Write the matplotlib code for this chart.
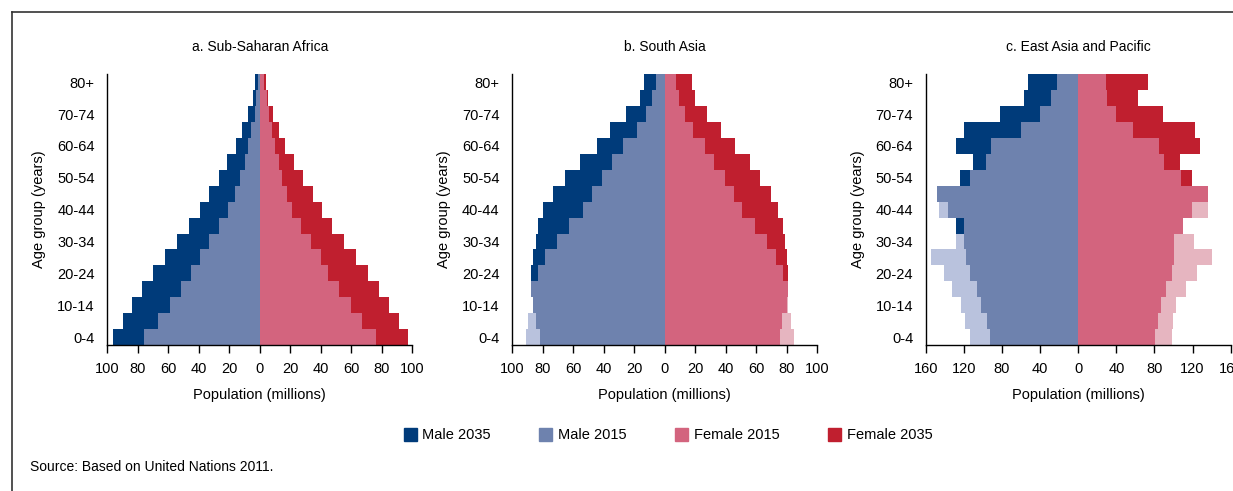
import numpy as np
import matplotlib
matplotlib.use("Agg")
import matplotlib.pyplot as plt
from matplotlib.patches import Patch
from matplotlib.lines import Line2D

plt.rcParams['font.family'] = ['Liberation Sans Narrow', 'Liberation Sans', 'DejaVu Sans']

age_groups = ['0-4', '5-9', '10-14', '15-19', '20-24', '25-29', '30-34', '35-39',
              '40-44', '45-49', '50-54', '55-59', '60-64', '65-69', '70-74', '75-79', '80+']

# a. Sub-Saharan Africa
ssa_male_2015 = [76, 67, 59, 52, 45, 39, 33, 26.7, 21, 16.5, 13.2, 10, 7.7, 6, 2.9, 2.2, 1.3]
ssa_male_2035 = [96, 90, 84, 77, 70, 62, 54, 46.5, 39.4, 33, 27, 21.4, 15.6, 11.5, 7.5, 4.4, 3]
ssa_female_2015 = [76, 67, 60, 52, 45, 40, 33.5, 27, 21.4, 17.8, 14.8, 12.3, 10, 7.7, 6, 4.4, 2.6]
ssa_female_2035 = [97, 91, 85, 78, 71, 63, 55, 47.5, 41, 34.6, 28, 22.5, 16.7, 12.3, 8.6, 5.5, 4.2]

# b. South Asia
sa_male_2015 = [90.8, 89.7, 86.5, 87.5, 83, 78.5, 70.6, 62.5, 53.3, 47.4, 41, 34.4, 27, 18, 12, 8.1, 5.9]
sa_male_2035 = [81.6, 84, 86, 87.5, 87.5, 86, 84, 83, 79.4, 73, 65.4, 55.3, 44.3, 35.5, 25, 15.8, 13.6]
sa_female_2015 = [84.6, 82.7, 81, 81, 78, 72.8, 67, 59.6, 51, 45.4, 39.5, 32.5, 26.3, 18.6, 13.2, 9.2, 7.7]
sa_female_2035 = [75.7, 76.8, 80, 81, 81, 80, 79, 77.8, 74.6, 70, 62.5, 56, 46, 37.3, 28, 19.7, 18]

# c. East Asia and Pacific
eap_male_2015 = [114, 118.7, 122.6, 132, 141, 154.8, 128.6, 120, 146, 148, 113.8, 97, 91, 60, 40, 28.3, 22.3]
eap_male_2035 = [93, 96, 101.8, 106.7, 114, 117.7, 120, 128.6, 137, 148, 124.4, 110, 128.6, 120, 82.3, 57.2, 52.3]
eap_female_2015 = [97.9, 99.6, 103, 113, 124.7, 140.3, 121, 110, 136, 136, 107.8, 90, 84.8, 57.6, 39.6, 30, 29.3]
eap_female_2035 = [80.6, 83.7, 87.3, 91.9, 97.9, 100, 100, 110.2, 119, 136, 119, 107, 128, 123, 89, 63, 73.5]

panels = [
    ('a. Sub-Saharan Africa', ssa_male_2015, ssa_male_2035, ssa_female_2015, ssa_female_2035, 100, 20),
    ('b. South Asia', sa_male_2015, sa_male_2035, sa_female_2015, sa_female_2035, 100, 20),
    ('c. East Asia and Pacific', eap_male_2015, eap_male_2035, eap_female_2015, eap_female_2035, 160, 40),
]

male_dark, male_mid, male_light = '#003b7a', '#6e82ae', '#b9c2dd'
fem_dark, fem_mid, fem_light = '#c01f2f', '#d3647e', '#e6b5c0'

fig = plt.figure(figsize=(12.33, 4.91), dpi=100)
lefts = [107.3, 512, 925.7]
W, H = 1233.0, 491.0

y = np.arange(len(age_groups))
for left, (title, m15, m35, f15, f35, lim, step) in zip(lefts, panels):
    ax = fig.add_axes([left / W, 1 - 345 / H, 305 / W, (345 - 74.3) / H])
    m15 = np.array(m15); m35 = np.array(m35)
    f15 = np.array(f15); f35 = np.array(f35)
    # 2015 beyond 2035 shows light, 2035 beyond 2015 shows dark, overlap mid
    ax.barh(y, -m15, height=1.0, color=male_light, linewidth=0)
    ax.barh(y, -m35, height=1.0, color=male_dark, linewidth=0)
    ax.barh(y, -np.minimum(m15, m35), height=1.0, color=male_mid, linewidth=0)
    ax.barh(y, f15, height=1.0, color=fem_light, linewidth=0)
    ax.barh(y, f35, height=1.0, color=fem_dark, linewidth=0)
    ax.barh(y, np.minimum(f15, f35), height=1.0, color=fem_mid, linewidth=0)

    ax.set_xlim(-lim, lim)
    ax.set_ylim(-0.5, len(age_groups) - 0.5)
    ticks = np.arange(-lim, lim + 1, step)
    ax.set_xticks(ticks)
    ax.set_xticklabels([str(abs(int(t))) for t in ticks], fontsize=10.5)
    ax.set_yticks(y[::2])
    ax.set_yticklabels(age_groups[::2], fontsize=10.5)
    ax.tick_params(axis='y', length=0, pad=9)
    ax.tick_params(axis='x', length=6, width=1, direction='out', pad=6)
    for s in ['top', 'right']:
        ax.spines[s].set_visible(False)
    ax.spines['left'].set_linewidth(1)
    ax.spines['bottom'].set_linewidth(1)
    ax.set_title(title, fontsize=10, pad=17)
    ax.set_xlabel('Population (millions)', fontsize=10.5, labelpad=9)
    ax.set_ylabel('Age group (years)', fontsize=10.5, labelpad=8)

# frame around the figure
fig.add_artist(Line2D([12 / W, 1.0], [1 - 12 / H, 1 - 12 / H], color='#333333', lw=1.2))
fig.add_artist(Line2D([12 / W, 12 / W], [0.0, 1 - 12 / H], color='#333333', lw=1.2))

handles = [Patch(color=male_dark), Patch(color=male_mid), Patch(color=fem_mid), Patch(color=fem_dark)]
labels = ['Male 2035', 'Male 2015', 'Female 2015', 'Female 2035']
fig.legend(handles, labels, loc='center', bbox_to_anchor=(668 / W, 1 - 435 / H), ncol=4,
           frameon=False, fontsize=10.5, handlelength=0.9, handleheight=1.0,
           handletextpad=0.4, columnspacing=3.3)

fig.text(30 / W, 1 - 467 / H, 'Source: Based on United Nations 2011.', fontsize=10,
         ha='left', va='center')

fig.savefig('out.png', dpi=100)
